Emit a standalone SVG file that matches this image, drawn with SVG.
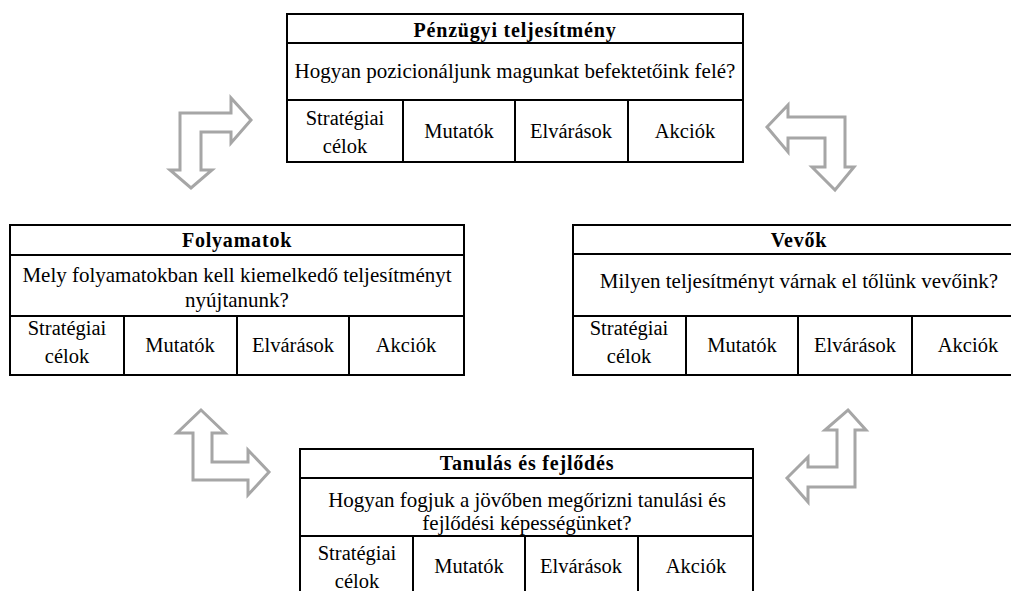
<svg xmlns="http://www.w3.org/2000/svg" width="1011" height="591" viewBox="0 0 1011 591">
  <style>
    .frame { fill: #ffffff; stroke: #000000; stroke-width: 2; }
    .rule { stroke: #000000; stroke-width: 2; fill: none; }
    .title { font-family: "Liberation Serif", "Times New Roman", serif; font-weight: bold; font-size: 20px; letter-spacing: 0.8px; text-anchor: middle; fill: #000000; }
    .txt { font-family: "Liberation Serif", "Times New Roman", serif; font-size: 21px; text-anchor: middle; fill: #000000; }
    .cell { font-family: "Liberation Serif", "Times New Roman", serif; font-size: 20.5px; text-anchor: middle; fill: #000000; }
    .flow { fill: #ffffff; stroke: #a6a6a6; stroke-width: 3; stroke-linejoin: miter; }
  </style>

  <!-- bent outline arrows between the four perspectives -->
  <g id="connectors">
    <polygon class="flow" points="180,113 231,113 231,98 251,120 231,143 231,132 201,132 201,170 212,170 191,188 170,170 180,170"/>
    <polygon class="flow" points="767,127 788,105 788,117 845,117 845,167 854,167 835,190 812,167 825,167 825,138 788,138 788,152"/>
    <polygon class="flow" points="201,410 225,433 212,433 212,462 248,462 248,450 269,472 248,495 248,480 193,480 193,433 177,433"/>
    <polygon class="flow" points="848,410 866,430 855,430 855,487 808,487 808,502 787,478 808,457 808,467 837,467 837,430 825,430"/>
  </g>

  <!-- Financial perspective -->
  <g id="penzugyi">
    <rect class="frame" x="287" y="14" width="456" height="148"/>
    <line class="rule" x1="287" y1="43" x2="743" y2="43"/>
    <line class="rule" x1="287" y1="100" x2="743" y2="100"/>
    <line class="rule" x1="403" y1="100" x2="403" y2="162"/>
    <line class="rule" x1="515" y1="100" x2="515" y2="162"/>
    <line class="rule" x1="628" y1="100" x2="628" y2="162"/>
    <text class="title" x="515" y="37">Pénzügyi teljesítmény</text>
    <text class="txt" x="515" y="78">Hogyan pozicionáljunk magunkat befektetőink felé?</text>
    <text class="cell" x="345" y="125">Stratégiai</text>
    <text class="cell" x="345" y="153">célok</text>
    <text class="cell" x="459" y="138">Mutatók</text>
    <text class="cell" x="571" y="138">Elvárások</text>
    <text class="cell" x="685" y="138">Akciók</text>
  </g>

  <!-- Internal processes -->
  <g id="folyamatok">
    <rect class="frame" x="10" y="225" width="454" height="150"/>
    <line class="rule" x1="10" y1="255" x2="464" y2="255"/>
    <line class="rule" x1="10" y1="316" x2="464" y2="316"/>
    <line class="rule" x1="124" y1="316" x2="124" y2="375"/>
    <line class="rule" x1="237" y1="316" x2="237" y2="375"/>
    <line class="rule" x1="349" y1="316" x2="349" y2="375"/>
    <text class="title" x="237" y="247">Folyamatok</text>
    <text class="txt" x="237" y="282">Mely folyamatokban kell kiemelkedő teljesítményt</text>
    <text class="txt" x="237" y="307">nyújtanunk?</text>
    <text class="cell" x="67" y="335">Stratégiai</text>
    <text class="cell" x="67" y="363">célok</text>
    <text class="cell" x="180" y="352">Mutatók</text>
    <text class="cell" x="293" y="352">Elvárások</text>
    <text class="cell" x="406" y="352">Akciók</text>
  </g>

  <!-- Customers -->
  <g id="vevok">
    <rect class="frame" x="573" y="225" width="451" height="150"/>
    <line class="rule" x1="573" y1="254" x2="1024" y2="254"/>
    <line class="rule" x1="573" y1="316" x2="1024" y2="316"/>
    <line class="rule" x1="686" y1="316" x2="686" y2="375"/>
    <line class="rule" x1="798" y1="316" x2="798" y2="375"/>
    <line class="rule" x1="912" y1="316" x2="912" y2="375"/>
    <text class="title" x="799" y="247">Vevők</text>
    <text class="txt" x="799" y="288">Milyen teljesítményt várnak el tőlünk vevőink?</text>
    <text class="cell" x="629" y="335">Stratégiai</text>
    <text class="cell" x="629" y="363">célok</text>
    <text class="cell" x="742" y="352">Mutatók</text>
    <text class="cell" x="855" y="352">Elvárások</text>
    <text class="cell" x="968" y="352">Akciók</text>
  </g>

  <!-- Learning and growth -->
  <g id="tanulas">
    <rect class="frame" x="300" y="449" width="453" height="150"/>
    <line class="rule" x1="300" y1="478" x2="753" y2="478"/>
    <line class="rule" x1="300" y1="536" x2="753" y2="536"/>
    <line class="rule" x1="413" y1="536" x2="413" y2="599"/>
    <line class="rule" x1="525" y1="536" x2="525" y2="599"/>
    <line class="rule" x1="638" y1="536" x2="638" y2="599"/>
    <text class="title" x="527" y="470">Tanulás és fejlődés</text>
    <text class="txt" x="527" y="507">Hogyan fogjuk a jövőben megőrizni tanulási és</text>
    <text class="txt" x="527" y="530">fejlődési képességünket?</text>
    <text class="cell" x="357" y="560">Stratégiai</text>
    <text class="cell" x="357" y="588">célok</text>
    <text class="cell" x="469" y="573">Mutatók</text>
    <text class="cell" x="581" y="573">Elvárások</text>
    <text class="cell" x="696" y="573">Akciók</text>
  </g>
</svg>
